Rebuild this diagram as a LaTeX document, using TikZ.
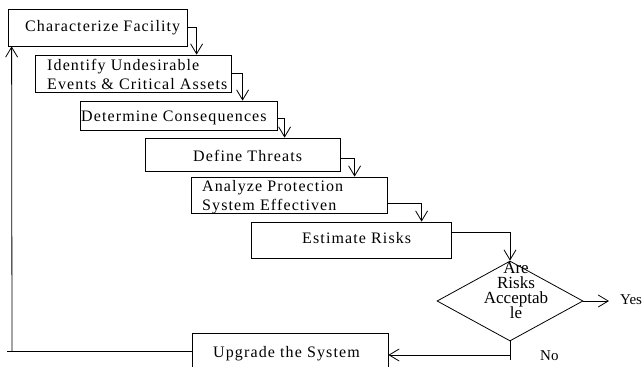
\documentclass[tikz,border=0pt]{standalone}
\usepackage{fontspec}
\setmainfont{Liberation Serif}
\newfontfamily\boxfont[LetterSpace=7]{Liberation Serif}
\usetikzlibrary{arrows.meta,shapes.geometric,calc}
\begin{document}
\begin{tikzpicture}[x=1pt,y=-1pt,
  box/.style={draw, line width=0.8pt, inner sep=0pt},
  arr/.style={line width=0.8pt, -{Straight Barb[length=10pt,width=12pt,line width=0.8pt]}},
  ln/.style={line width=0.8pt},
  bt/.style={font=\boxfont\fontsize{16}{19}\selectfont, inner sep=0pt, anchor=base west, align=left},
  dt/.style={font=\fontsize{15}{15}\selectfont, inner sep=0pt, align=center},
  dq/.style={font=\fontsize{17}{15}\selectfont, inner sep=0pt, align=center}]
\clip (0,0) rectangle (643,367);
\fill[white] (0,0) rectangle (643,367);
% boxes
\node[box, minimum width=179, minimum height=37] (b1) at (97.5,27.5) {};
\node[box, minimum width=196, minimum height=37] (b2) at (133,73.5) {};
\node[box, minimum width=197, minimum height=29] (b3) at (178.5,115.5) {};
\node[box, minimum width=195, minimum height=33] (b4) at (242.5,154.5) {};
\node[box, minimum width=196, minimum height=36] (b5) at (289,195) {};
\node[box, minimum width=200, minimum height=36] (b6) at (351,240) {};
\node[box, minimum width=196, minimum height=40] (b7) at (290,353) {};
\node[draw, line width=0.8pt, shape=diamond, inner sep=0pt, minimum width=146, minimum height=80] (d) at (510,301) {};
% texts
\node[bt] (t1) at (25,31) {Characterize Facility};
\node[bt] (t2) at (47,89) {Identify Undesirable\\Events \& Critical Assets};
\node[bt] (t3) at (81,121) {Determine Consequences};
\node[bt] (t4) at (193,161) {Define Threats};
\node[bt] (t5) at (202,210) {Analyze Protection\\System Effectiven};
\node[bt] (t6) at (302,243) {Estimate Risks};
\node[bt] (t7) at (213,357) {Upgrade the System};
\node[dq, anchor=base] (td) at (516,318) {Are\\Risks\\Acceptab\\[-2pt]le};
\node[dt, anchor=base west] (yes) at (620,304) {Yes};
\node[dt, anchor=base west] (no) at (540,360) {No};
% connectors
\draw[arr] (b1.east) -| ([xshift=162]b2.north west);
\draw[arr] (b2.east) -| ([xshift=163]b3.north west);
\draw[arr] ([yshift=-3]b3.east) -| ([xshift=140]b4.north west);
\draw[arr] ([yshift=-4]b4.east) -| ([xshift=164]b5.north west);
\draw[arr] ([yshift=-8]b5.east) -| ([xshift=171]b6.north west);
\draw[arr] ([yshift=8]b6.east) -| (d.north);
\coordinate (ye) at (609,301);
\draw[arr] (d.east) -- (ye);
\coordinate (nb) at (510,355);
\coordinate (ne) at (510,360);
\draw[ln] (d.south) -- (ne);
\draw[arr] (nb) -- ([yshift=-2]b7.east);
\coordinate (lf) at (7,351);
\coordinate (lc) at (12,351);
\draw[ln] ([yshift=2]b7.west) -- (lf);
\draw[arr] (lc) -- ([xshift=4]b1.south west);
\end{tikzpicture}
\end{document}
